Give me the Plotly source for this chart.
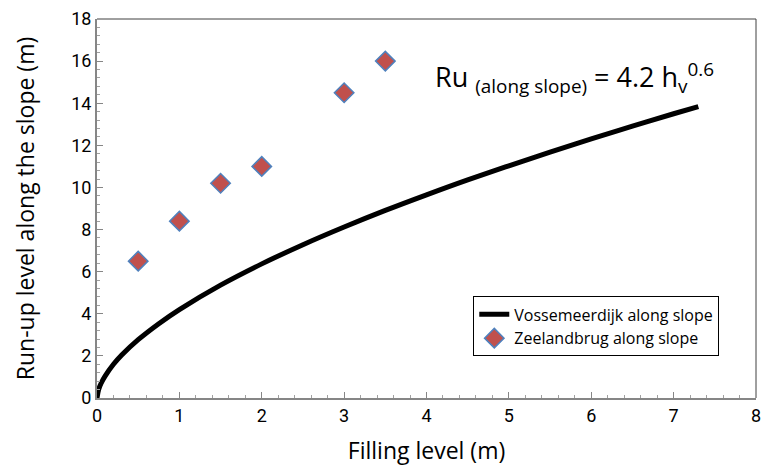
import plotly.graph_objects as go

# Vossemeerdijk curve
curve_x = [0, 0.02, 0.05, 0.1, 0.2, 0.3, 0.5, 0.75, 1.0, 1.5, 2.0, 2.5, 3.0, 3.5, 4.0, 4.5, 5.0, 5.5, 6.0, 6.5, 7.0, 7.3]
curve_y = [0, 0.40, 0.70, 1.05, 1.60, 2.04, 2.77, 3.53, 4.20, 5.36, 6.37, 7.28, 8.12, 8.91, 9.65, 10.36, 11.03, 11.68, 12.31, 12.91, 13.50, 13.84]

# Zeelandbrug points
pts_x = [0.5, 1.0, 1.5, 2.0, 3.0, 3.5]
pts_y = [6.5, 8.4, 10.2, 11.0, 14.5, 16.0]

x_ticks = [0, 1, 2, 3, 4, 5, 6, 7, 8]
y_ticks = [0, 2, 4, 6, 8, 10, 12, 14, 16, 18]

fig = go.Figure()
fig.add_trace(go.Scatter(x=curve_x, y=curve_y, mode="lines", name="Vossemeerdijk along slope",
                         line=dict(color="black", width=5), line_shape="spline"))
fig.add_trace(go.Scatter(x=pts_x, y=pts_y, mode="markers", name="Zeelandbrug along slope",
                         marker=dict(symbol="diamond", size=15, color="#C0504D",
                                     line=dict(color="#4F81BD", width=1.5))))

tickfont = dict(family="Roboto, sans-serif", size=18, color="black")
titlefont = dict(family="Open Sans, sans-serif", size=23, color="black")
fig.update_layout(
    width=767, height=470,
    margin=dict(l=97, r=6, t=19, b=72),
    paper_bgcolor="white", plot_bgcolor="white",
    showlegend=True,
    legend=dict(x=0.571, y=0.268, xanchor="left", yanchor="top",
                bordercolor="black", borderwidth=1, bgcolor="white",
                font=dict(family="Open Sans, sans-serif", size=16, color="black"),
                tracegroupgap=2, itemwidth=30),
    xaxis=dict(range=[0, 8], tickvals=x_ticks, ticktext=[str(v) for v in x_ticks],
               showgrid=False, zeroline=False, showline=True, linecolor="#868686", linewidth=2,
               mirror=False, ticks="inside", ticklen=6, tickcolor="#868686", tickfont=tickfont,
               minor=dict(dtick=0.2, ticks="inside", ticklen=3, tickcolor="#a0a0a0", showgrid=False),
               title=dict(text="Filling level (m)", font=titlefont, standoff=18)),
    yaxis=dict(range=[0, 18], tickvals=y_ticks, ticktext=[str(v) for v in y_ticks],
               showgrid=False, zeroline=False, showline=True, linecolor="#868686", linewidth=2,
               ticks="inside", ticklen=6, tickcolor="#868686", tickfont=tickfont,
               minor=dict(dtick=0.4, ticks="inside", ticklen=3, tickcolor="#a0a0a0", showgrid=False),
               title=dict(text="Run-up level along the slope (m)", font=titlefont, standoff=30)),
)

# top and right frame
fig.add_shape(type="line", xref="paper", yref="paper", x0=0, x1=1, y0=1, y1=1, line=dict(color="#404040", width=1))
fig.add_shape(type="line", xref="paper", yref="paper", x0=1, x1=1, y0=0, y1=1, line=dict(color="#404040", width=1))

fig.add_annotation(x=5.8, y=15.2, xref="x", yref="y", xanchor="center", yanchor="middle", showarrow=False,
                   text="Ru <sub>(along slope)</sub> = 4.2 h<sub>v</sub><sup>0.6</sup>",
                   font=dict(family="Open Sans, sans-serif", size=27, color="black"))

fig.write_html("out.html")
